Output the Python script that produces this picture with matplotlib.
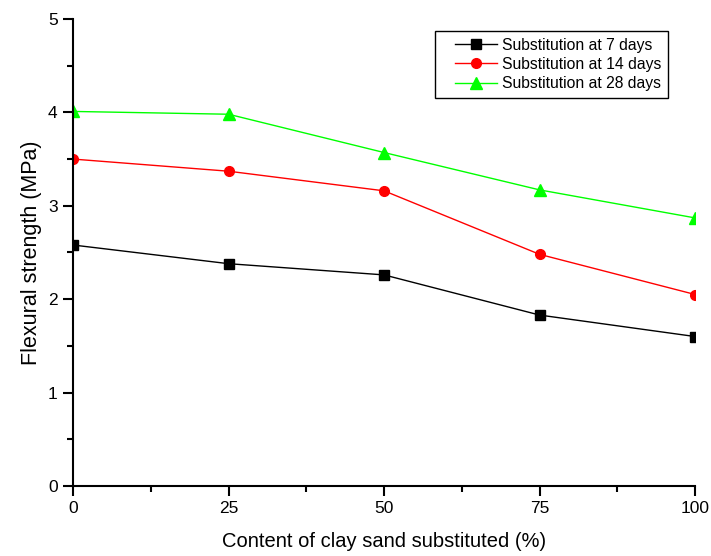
import numpy as np
import matplotlib
matplotlib.use("Agg")
import matplotlib.pyplot as plt
from matplotlib.ticker import MultipleLocator
from matplotlib.patches import Rectangle

plt.rcParams['font.family'] = ['Liberation Sans', 'DejaVu Sans']

content = [0, 25, 50, 75, 100]
days7 = [2.58, 2.38, 2.26, 1.83, 1.60]
days14 = [3.50, 3.37, 3.16, 2.48, 2.05]
days28 = [4.01, 3.98, 3.57, 3.17, 2.87]

fig = plt.figure(figsize=(7.11, 5.56), dpi=100)
ax = fig.add_axes([0.1027, 0.1259, 0.875, 0.84])

ax.plot(content, days7, color='black', marker='s', markersize=7, lw=1, label='Substitution at 7 days')
ax.plot(content, days14, color='red', marker='o', markersize=7, lw=1, label='Substitution at 14 days')
ax.plot(content, days28, color='#00ff00', marker='^', markersize=8, lw=1, label='Substitution at 28 days')

ax.set_xlim(0, 100)
ax.set_ylim(0, 5)
ax.set_xticks(content)
ax.xaxis.set_minor_locator(MultipleLocator(12.5))
ax.yaxis.set_major_locator(MultipleLocator(1))
ax.yaxis.set_minor_locator(MultipleLocator(0.5))

ax.spines['top'].set_visible(False)
ax.spines['right'].set_visible(False)
ax.spines['left'].set_linewidth(1.5)
ax.spines['bottom'].set_linewidth(1.5)
ax.tick_params(which='major', direction='out', length=7, width=1.5, labelsize=12.5, pad=4)
ax.tick_params(which='minor', direction='out', length=4, width=1.5)

ax.set_xlabel('Content of clay sand substituted (%)', fontsize=14.5, labelpad=11)
ax.set_ylabel('Flexural strength (MPa)', fontsize=15.5, labelpad=4)

leg = ax.legend(loc='upper right', bbox_to_anchor=(0.957, 0.975), fontsize=11.3, frameon=False,
                handlelength=2.7, handletextpad=0.3, borderpad=0.45, labelspacing=0.27,
                borderaxespad=0)

# frame drawn by hand: wider padding on the left side, like the original
fig.canvas.draw()
bb = leg.get_window_extent()
fig.patches.append(Rectangle((bb.x0 - 13, bb.y0), bb.width + 13, bb.height,
                             transform=None, fill=False, edgecolor='black', lw=1,
                             figure=fig))

fig.savefig('out.png', dpi=100)
